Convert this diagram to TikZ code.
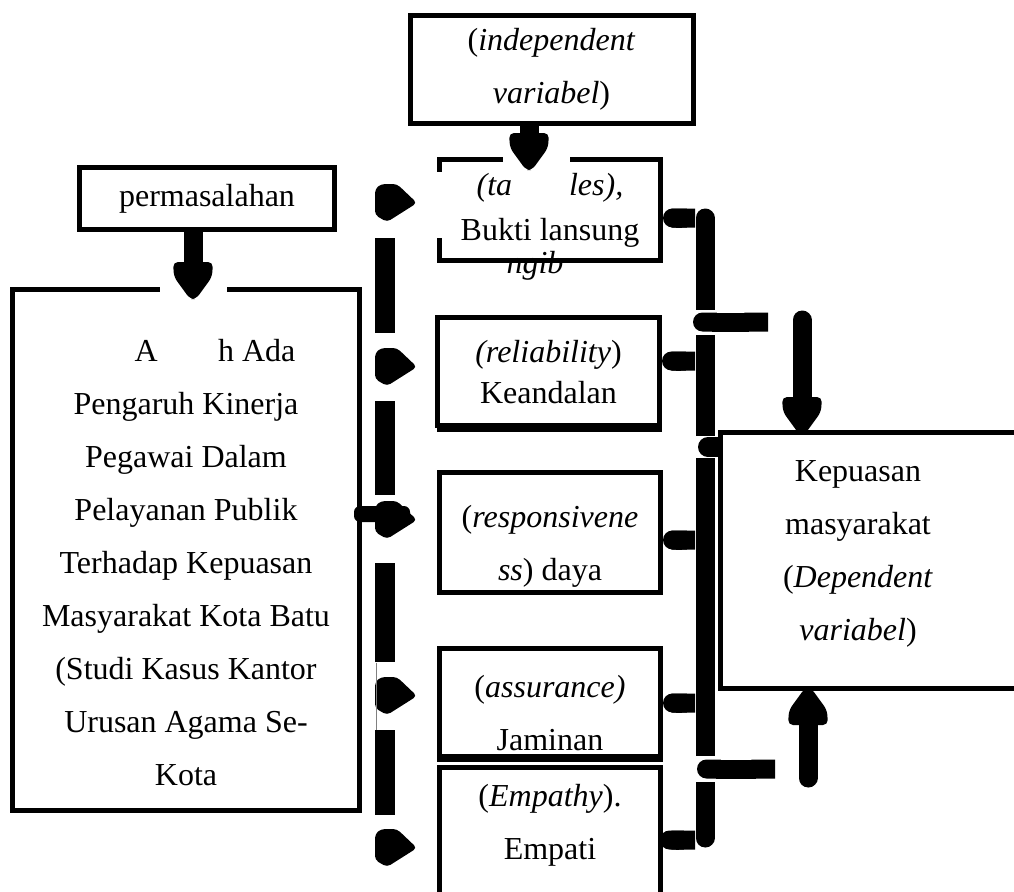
\documentclass[tikz,border=0pt]{standalone}
\usepackage{fontspec}
\setmainfont{Liberation Serif}
\usetikzlibrary{arrows.meta,calc}
\newcommand\myDHead[1]{\fill[rounded corners=5pt] ($(#1)+(-20,-35)$) -- ($(#1)+(20,-35)$) -- ($(#1)+(19,-20)$) -- ($(#1)+(3,2)$) -- ($(#1)+(-3,2)$) -- ($(#1)+(-19,-20)$) -- cycle;}
\newcommand\myUHead[1]{\fill[rounded corners=5pt] ($(#1)+(-20,35)$) -- ($(#1)+(20,35)$) -- ($(#1)+(19,20)$) -- ($(#1)+(3,-2)$) -- ($(#1)+(-3,-2)$) -- ($(#1)+(-19,20)$) -- cycle;}
\newcommand\myRHead[1]{\fill[rounded corners=4pt] ($(#1)+(-38,-14)$) -- ($(#1)+(-32,-19)$) -- ($(#1)+(-16,-19)$) -- ($(#1)+(4,0)$) -- ($(#1)+(-26,19)$) -- ($(#1)+(-38,12)$) -- cycle;}
\begin{document}
\begin{tikzpicture}[x=1pt,y=-1pt,
  box/.style={draw,line width=5pt,inner sep=0pt,align=center,font=\fontsize{32}{53}\selectfont},
  txt/.style={inner sep=0pt,align=center,font=\fontsize{32}{53}\selectfont},
  stem/.style={line width=19pt},
  bar/.style={line width=19pt,{Round Cap[]}-{Butt Cap[]}},
  bus/.style={line width=19pt,line cap=round},
  dashbar/.style={fill=black}]
\useasboundingbox (0,0) rectangle (1014,891);
\fill[white] (0,0) rectangle (1014,891);

% boxes
\node[box,minimum width=283pt,minimum height=107pt] (indep) at (551.5,69.5)
  {(\textit{independent}\\\textit{variabel})};
\node[box,minimum width=255pt,minimum height=62pt] (perm) at (207,198.5) {permasalahan};
\node[box,minimum width=347pt,minimum height=521pt] (left) at (186,550) {};
\node[txt] (lefttxt) at (186,563) {\hspace*{58pt}A\phantom{paka}h Ada\\Pengaruh Kinerja\\Pegawai Dalam\\
  Pelayanan Publik\\Terhadap Kepuasan\\Masyarakat Kota Batu\\(Studi Kasus Kantor\\Urusan Agama Se-\\Kota};
\node[box,minimum width=221pt,minimum height=101pt] (tang) at (550,210) {};
\node[txt,font=\fontsize{32}{45}\selectfont] (tangtxt) at (550,210) {\textit{(ta\phantom{ngib}les),}\\Bukti lansung};
\node[box,minimum width=222pt,minimum height=108pt] (rel) at (548.5,371.5) {};
\node[txt,font=\fontsize{32}{41}\selectfont] (reltxt) at (548.5,372) {\textit{(reliability})\\Keandalan};
\draw[line width=4pt] (437,430) -- (662,430);
\node[box,minimum width=221pt,minimum height=120pt] (resp) at (550,532.5) {};
\node[txt] (resptxt) at (550,546) {(\textit{responsivene}\\\textit{ss}) daya};
\node[box,minimum width=221pt,minimum height=108pt] (assur) at (550,702) {};
\node[txt] (assurtxt) at (550,713) {(\textit{assurance)}\\Jaminan};
\draw[line width=3pt] (437,760) -- (663,760);
\draw[line width=5pt] (439.5,900) -- (439.5,767.5) -- (660.5,767.5) -- (660.5,900);
\node[txt] (emp) at (550,825) {(\textit{Empathy}).\\Empati};
\draw[line width=5pt] (1020,432.5) -- (720.5,432.5) -- (720.5,688.5) -- (1020,688.5);
\node[txt] (kep) at (858,554) {Kepuasan\\masyarakat\\(\textit{Dependent}\\\textit{variabel})};

% gaps in borders
\fill[white] (503,150) rectangle (570,166);
\fill[white] (430,172) rectangle (446,238);
\fill[white] (160,280) rectangle (227,296);
\node[txt,font=\fontsize{32}{40}\itshape] (ngib) at (535,266) {ngib};

% arrow from independent box
\coordinate (a1) at (529,168);
\draw[stem] (indep.south -| a1) -- ($(a1)+(0,-30)$);
\myDHead{a1}
% arrow from permasalahan
\coordinate (a2) at (193,297);
\draw[stem] (perm.south -| a2) -- ($(a2)+(0,-30)$);
\myDHead{a2}

% left dashed column with heads
\fill[dashbar] (375,238) rectangle (395,333);
\fill[dashbar] (375,401) rectangle (395,495);
\fill[dashbar] (375,563) rectangle (395,662);
\fill[dashbar] (375,730) rectangle (395,815);
\coordinate (h1) at (413,203);
\coordinate (h2) at (413,367);
\coordinate (h3) at (413,520);
\coordinate (h4) at (413,696);
\coordinate (h5) at (413,848);
\myRHead{h1}\myRHead{h2}\myRHead{h4}\myRHead{h5}
\fill[rounded corners=6pt] (354,506) rectangle (410,522);
\myRHead{h3}
\draw[line width=0.8pt,gray] (376,663) -- (376,730);

% right bus
\draw[bus] (705,218) -- (705,838);
\coordinate (b1) at (695,218);
\coordinate (b2) at (695,361);
\coordinate (b3) at (695,540);
\coordinate (b4) at (695,703);
\coordinate (b5) at (695,840);
\draw[bar] (tang.east |- b1) -- (b1);
\draw[bar] (rel.east |- b2) -- (b2);
\draw[bar] (resp.east |- b3) -- (b3);
\draw[bar] (assur.east |- b4) -- (b4);
\draw[bar] (660,840) -- (b5);

% top cross bar and down arrow
\fill[white] (692,310) rectangle (770,335);
\coordinate (c1) at (768,322);
\draw[bar] (693,322) -- (c1);
\coordinate (a3) at (802,432);
\draw[stem,line cap=round] (802,320) -- ($(a3)+(0,-30)$);
\myDHead{a3}
% blob at kepuasan corner
\fill[white] (695,436) rectangle (718,458);
\fill (708,437) rectangle (718,457);
\fill (708,447) circle (10pt);

% bottom cross bar and up arrow
\fill[white] (692,756) rectangle (780,782);
\coordinate (c2) at (775,769);
\draw[bar] (697,769) -- (c2);
\coordinate (a4) at (808,690);
\draw[stem,line cap=round] (808,778) -- ($(a4)+(0,30)$);
\myUHead{a4}
\end{tikzpicture}
\end{document}
